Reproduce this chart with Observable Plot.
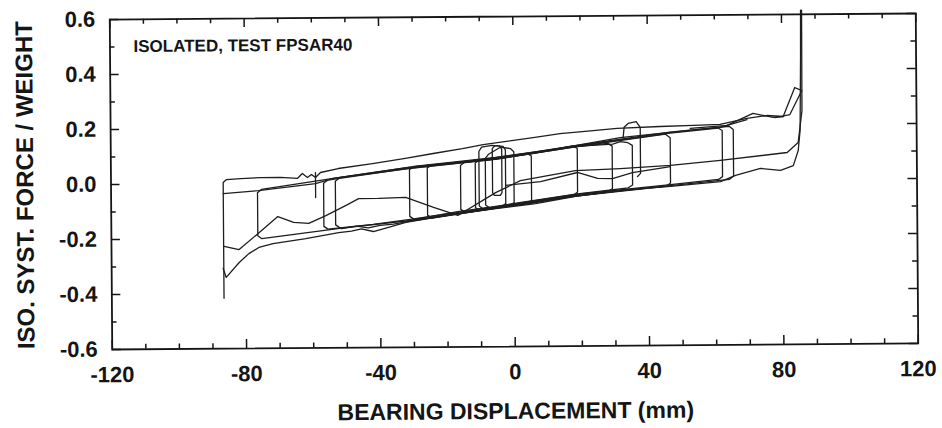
<!DOCTYPE html>
<html><head><meta charset="utf-8">
<script src="https://cdn.jsdelivr.net/npm/d3@7"></script>
<script src="https://cdn.jsdelivr.net/npm/@observablehq/plot@0.6"></script>
<style>html,body{margin:0;padding:0;background:#fff;overflow:hidden}</style>
</head><body><div id="chart"></div>
<script>
// ---- text ----
const xTitle = "BEARING DISPLACEMENT (mm)";
const yTitle = "ISO. SYST. FORCE / WEIGHT";
const note = "ISOLATED, TEST FPSAR40";

// ---- ticks ----
const xTicks = [-120, -80, -40, 0, 40, 80, 120];
const xMinor = [-110, -100, -90, -70, -60, -50, -30, -20, -10, 10, 20, 30, 50, 60, 70, 90, 100, 110];
const yTicks = [-0.6, -0.4, -0.2, 0, 0.2, 0.4, 0.6];
const yMinor = [-0.5, -0.3, -0.1, 0.1, 0.3, 0.5];

// ---- traces [displacement mm, force/weight] ----
const outerLoop = [[-86.6,-0.417],[-86.6,0.004],[-85.6,0.015],[-81.4,0.018],[-75.5,0.021],[-69.5,0.021],[-64.5,0.017],[-63,0.035],[-61.5,0.02],[-60.3,0.031],[-59.1,0.02],[-57.6,0.038],[-52.3,0.052],[-42.1,0.069],[-32.3,0.087],[-24,0.104],[-15.3,0.121],[-9.1,0.135],[5.8,0.159],[13.8,0.173],[23.7,0.183],[30.8,0.19],[43.6,0.196],[53.5,0.199],[61.5,0.202],[69.5,0.223],[75.5,0.233],[80.3,0.229],[83.8,0.334],[85.9,0.323],[82.3,0.236],[77.9,0.225]];
const stubLeft = [[-59.1,0.038],[-59.1,-0.053]];
const upperBand = [[-86.6,-0.036],[-76.1,-0.026],[-59.1,-0.002],[-53.8,0.016],[-31.4,0.054],[-16.8,0.071],[-5.5,0.084],[4.3,0.101],[18.3,0.129],[31.7,0.157],[46.6,0.174],[61.5,0.191],[69.5,0.219]];
const dipCurve = [[-86.8,-0.308],[-85.9,-0.341],[-82,-0.287],[-79.1,-0.255],[-76.1,-0.233],[-71.9,-0.219],[-62.1,-0.202],[-52.3,-0.181],[-48.5,-0.176],[-45.5,-0.168],[-42,-0.178],[-38,-0.165],[-32.3,-0.146],[-16.8,-0.115],[-5.5,-0.098],[6.4,-0.081],[18.3,-0.056],[34.7,-0.032],[46.6,-0.022],[61.5,-0.006],[66,0.016],[73.4,0.041],[79.4,0.033],[83.2,0.05],[84.7,0.105],[85.3,0.178],[85.6,0.45],[85.7,0.615]];
const waveCross = [[-86.5,-0.228],[-82,-0.24],[-77,-0.189],[-70.4,-0.121],[-65.7,-0.143],[-61.2,-0.147],[-56.1,-0.119],[-50.2,-0.083],[-46.3,-0.058],[-40.4,-0.058],[-32.3,-0.055],[-24,-0.092],[-16.8,-0.122],[-5.5,-0.04],[1.9,0.003],[18.3,0.038],[31.7,0.044],[46.6,0.054],[61.5,0.071],[81.4,0.098],[84.7,0.134],[85.9,0.25],[86,0.615]];
const midWave = [[-2.5,-0.014],[7.9,-0.001],[18.9,0.031],[24.9,0.009],[29.3,0.008],[35.3,0.029],[46.6,0.05]];
const rightUpperWave = [[52.6,0.188],[63.6,0.198],[71.3,0.241],[77.3,0.226],[80.3,0.229]];
const bumpLoop = [[32.6,0.157],[32.9,0.194],[34.1,0.208],[36.5,0.214],[37.7,0.193],[37.7,0.026],[36.8,0.015]];
const loop1 = [[-76.4,-0.034],[-76.4,-0.19],[-75.2,-0.201],[-52,-0.166],[-31,-0.139],[-6,-0.096],[18.3,-0.053],[46.6,-0.019],[64.2,0.002],[65.4,0.014],[65.4,0.183],[64.2,0.195],[46.6,0.175],[18.3,0.129],[-5.5,0.085],[-31.4,0.054],[-53.8,0.016],[-75.2,-0.022],[-76.4,-0.034]];
const loop2 = [[-56.7,-0.001],[-56.7,-0.158],[-55.5,-0.168],[-42,-0.152],[-31,-0.135],[-5.5,-0.092],[18.3,-0.049],[46.6,-0.016],[60.9,0.002],[62.1,0.012],[62.1,0.18],[60.9,0.189],[46.6,0.172],[18.3,0.127],[-5.5,0.082],[-31.4,0.051],[-55.5,0.01],[-56.7,-0.001]];
const loop3 = [[-53.2,0.006],[-53.2,-0.153],[-51.5,-0.167],[-47,-0.158],[-43.5,-0.165],[-40,-0.156],[-36,-0.152],[-31,-0.141],[-5.5,-0.097],[18.3,-0.055],[45.2,-0.022],[46.6,-0.01],[46.6,0.155],[45.2,0.168],[18.3,0.124],[-5.5,0.081],[-31.4,0.05],[-51.8,0.019],[-53.2,0.006]];
const loop4 = [[-31.1,0.046],[-31.1,-0.124],[-29.8,-0.135],[-16.8,-0.108],[-5.5,-0.09],[18.3,-0.048],[34,-0.026],[35.3,-0.016],[35.3,0.128],[34,0.138],[31.7,0.142],[29.5,0.133],[18.3,0.126],[-5.5,0.088],[-16.8,0.074],[-29.8,0.058],[-31.1,0.046]];
const loop5 = [[-25.8,0.052],[-25.8,-0.12],[-24.5,-0.131],[-5.5,-0.096],[18.3,-0.055],[28,-0.04],[29.3,-0.028],[29.3,0.126],[28,0.136],[18.3,0.124],[-5.5,0.082],[-24.5,0.062],[-25.8,0.052]];
const loop6 = [[-15.9,0.06],[-15.9,-0.1],[-14.7,-0.111],[-5.5,-0.095],[5,-0.08],[17.7,-0.052],[18.9,-0.04],[18.9,0.118],[17.7,0.128],[5,0.1],[-5.5,0.085],[-14.7,0.071],[-15.9,0.06]];
const loop7 = [[-11.5,0.068],[-11.5,-0.095],[-10.3,-0.104],[4,-0.08],[5.2,-0.07],[5.2,0.092],[4,0.102],[-10.3,0.079],[-11.5,0.068]];
const loop8 = [[-10.4,0.11],[-10.4,-0.088],[-9.3,-0.098],[-3.6,-0.09],[-2.5,-0.08],[-2.5,0.115],[-3.2,0.128],[-6.5,0.132],[-9.6,0.126],[-10.4,0.11]];
const loop9 = [[-8.5,0.085],[-8.5,-0.085],[-7.4,-0.095],[-1.1,-0.086],[0,-0.076],[0,0.108],[-1,0.12],[-4,0.125],[-7.5,0.1],[-8.5,0.085]];
const loop10 = [[-6.4,0.12],[-6.4,-0.04],[-5.9,-0.05],[-4.1,-0.05],[-3.6,-0.04],[-3.6,0.118],[-4.3,0.13],[-5.7,0.13],[-6.4,0.12]];

const traces = [outerLoop, stubLeft, upperBand, dipCurve, waveCross, midWave, rightUpperWave, bumpLoop,
  loop1, loop2, loop3, loop4, loop5, loop6, loop7, loop8, loop9, loop10];

// tick lengths in pixels converted to data units
const pxY = 1.2 / 330, pxX = 240 / 806;
const major = 9, minor = 5;
const ink = "#151515";

const chart = Plot.plot({
  width: 942, height: 428,
  marginLeft: 110.5, marginRight: 25.5, marginTop: 16, marginBottom: 82,
  x: {domain: [-120, 120], ticks: xTicks, tickSize: 0, tickPadding: 17, tickFormat: d => String(d), label: null},
  y: {domain: [-0.6, 0.6], ticks: yTicks, tickSize: 0, tickPadding: 14.5, tickFormat: d => d.toFixed(1), label: null},
  style: {background: "#fff", color: ink, fontFamily: "'Liberation Sans', Arial, sans-serif", fontSize: "22px", fontWeight: "bold", overflow: "visible"},
  marks: [
    ...traces.map(t => Plot.line(t, {stroke: "#1e1e1e", strokeWidth: 1.3, strokeLinejoin: "round"})),
    Plot.ruleX(xTicks, {x: d => d, y1: -0.6, y2: -0.6 + major * pxY, stroke: ink, strokeWidth: 1.5}),
    Plot.ruleX(xMinor, {x: d => d, y1: -0.6, y2: -0.6 + minor * pxY, stroke: ink, strokeWidth: 1.5}),
    Plot.ruleX(xTicks, {x: d => d, y1: 0.6, y2: 0.6 - major * pxY, stroke: ink, strokeWidth: 1.5}),
    Plot.ruleX(xMinor, {x: d => d, y1: 0.6, y2: 0.6 - minor * pxY, stroke: ink, strokeWidth: 1.5}),
    Plot.ruleY(yTicks, {y: d => d, x1: -120, x2: -120 + major * pxX, stroke: ink, strokeWidth: 1.5}),
    Plot.ruleY(yMinor, {y: d => d, x1: -120, x2: -120 + minor * pxX, stroke: ink, strokeWidth: 1.5}),
    Plot.ruleY(yTicks, {y: d => d, x1: 120, x2: 120 - major * pxX, stroke: ink, strokeWidth: 1.5}),
    Plot.ruleY(yMinor, {y: d => d, x1: 120, x2: 120 - minor * pxX, stroke: ink, strokeWidth: 1.5}),
    Plot.frame({stroke: ink, strokeWidth: 1.8}),
    Plot.text([note], {text: d => d, frameAnchor: "top-left", dx: 23.5, dy: 27.2, textAnchor: "start", lineAnchor: "middle", fontSize: 17, fontWeight: "bold", fill: ink}),
    Plot.text([xTitle], {text: d => d, frameAnchor: "bottom", dy: 65, textAnchor: "middle", lineAnchor: "middle", fontSize: 23, fontWeight: "bold", fill: ink}),
    Plot.text([yTitle], {text: d => d, frameAnchor: "left", dx: -85.5, rotate: -90, textAnchor: "middle", lineAnchor: "middle", fontSize: 24, fontWeight: "bold", fill: ink})
  ]
});
document.getElementById("chart").append(chart);
// the scanned original is tilted slightly
chart.style.transformOrigin = "513.5px 181px";
chart.style.transform = "rotate(-0.43deg)";
</script></body></html>
